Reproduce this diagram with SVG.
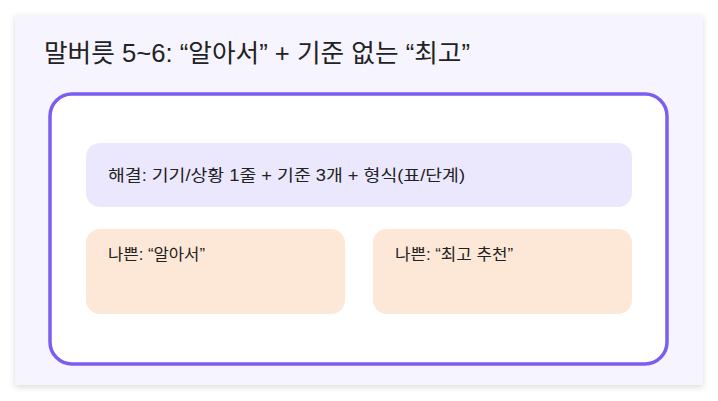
<svg xmlns="http://www.w3.org/2000/svg" width="718" height="401" viewBox="0 0 718 401">
<defs>
<style>
text{font-family:"Liberation Sans","Noto Sans CJK KR",sans-serif;fill:#222}
.t{font-size:16px}
</style>
<filter id="sh" x="-5%" y="-5%" width="110%" height="115%"><feDropShadow dx="0" dy="2" stdDeviation="3" flood-color="#000" flood-opacity="0.15"/></filter>
</defs>
<rect width="718" height="401" fill="#fff"/>
<rect x="15" y="15" width="688" height="370" fill="#f6f4fe" filter="url(#sh)"/>
<text x="44" y="62" font-size="25" textLength="426" lengthAdjust="spacingAndGlyphs">말버릇 5~6: “알아서” + 기준 없는 “최고”</text>
<rect x="50" y="94" width="617" height="270" rx="22" fill="#fff" stroke="#7b5ef0" stroke-width="3.5"/>
<g id="n1"><rect x="86" y="143" width="546" height="64" rx="14" fill="#ebe8fe"/><text class="t" x="108" y="181" textLength="357" lengthAdjust="spacingAndGlyphs">해결: 기기/상황 1줄 + 기준 3개 + 형식(표/단계)</text></g>
<g id="n2"><rect x="86" y="229" width="259" height="85" rx="14" fill="#fde8d8"/><text class="t" x="108" y="260" textLength="97" lengthAdjust="spacingAndGlyphs">나쁜: “알아서”</text></g>
<g id="n3"><rect x="373" y="229" width="259" height="85" rx="14" fill="#fde8d8"/><text class="t" x="395" y="260" textLength="118" lengthAdjust="spacingAndGlyphs">나쁜: “최고 추천”</text></g>
<g id="connectors"/>
</svg>
